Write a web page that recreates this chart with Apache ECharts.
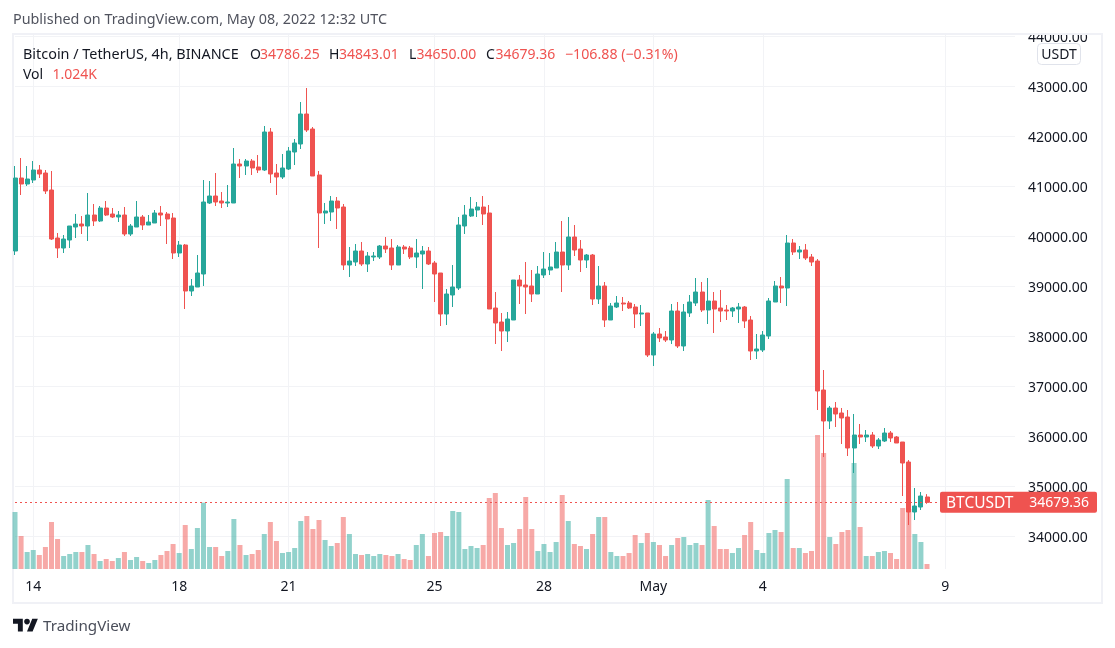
<!DOCTYPE html>
<html><head><meta charset="utf-8"><style>html,body{margin:0;padding:0;background:#fff}#c{width:1115px;height:648px}</style>
<script src="https://cdn.jsdelivr.net/npm/echarts@6/dist/echarts.min.js"></script></head><body><div id="c"></div>
<script>
const startTime = Date.UTC(2022,3,13,12);
const stepMs = 4*3600*1000;
const opens = [39706,41166,41046,41126,41326,41266,40926,39966,39766,39926,
40186,40246,40206,40426,40306,40566,40446,40386,40426,40046,
40186,40386,40226,40266,40466,40446,40366,39666,39826,38906,
38986,39246,40666,40806,40706,40666,40666,41446,41406,41506,
41386,41326,42086,41266,41186,41346,41686,41846,42446,42146,
41226,40466,40486,40706,40586,39426,39486,39706,39446,39586,
39586,39806,39766,39426,39786,39766,39586,39646,39706,39466,
39266,38446,38826,38966,40206,40406,40526,40586,40466,38566,
38286,38106,38326,39126,39026,39006,38846,39226,39326,39366,
39686,39426,39986,39746,39526,39626,38746,39006,38326,38586,
38666,38666,38586,38446,38466,37626,38046,37986,37926,38506,
37806,38466,38666,38886,38526,38706,38566,38526,38506,38546,
38586,38326,37706,37726,38006,38686,39006,38966,39866,39686,
39726,39586,39506,36926,36306,36566,36466,36386,35766,36026,
35986,36026,35806,35906,36066,35986,35886,35486,34486,34586,34786.25];
const closes = [41166,41046,41146,41326,41246,40906,39946,39766,39946,40206,
40246,40206,40426,40306,40566,40426,40386,40426,40046,40206,
40386,40226,40286,40466,40426,40346,39666,39826,38906,39006,
39266,40686,40806,40686,40666,40686,41446,41406,41506,41366,
41326,42086,41246,41186,41366,41706,41866,42446,42126,41206,
40466,40506,40706,40566,39426,39506,39706,39446,39606,39606,
39806,39746,39426,39786,39746,39586,39666,39706,39446,39246,
38446,38846,38986,40226,40426,40546,40586,40446,38546,38266,
38106,38346,39126,39006,38986,38846,39246,39346,39386,39686,
39426,39986,39726,39526,39626,38746,39006,38326,38606,38666,
38646,38566,38446,38466,37626,38046,37966,37926,38506,37806,
38486,38686,38886,38526,38706,38546,38506,38506,38566,38586,
38306,37706,37746,38026,38706,39006,38966,39866,39686,39726,
39566,39486,36906,36306,36566,36446,36366,35766,36026,35986,
36026,35806,35926,36066,35966,35866,35466,34486,34606,34806,34679.36];
const highs = [41406,41566,41406,41506,41426,41326,41306,40066,40026,40206,
40446,40406,40866,40646,40606,40706,40566,40506,40586,40246,
40706,40426,40426,40526,40606,40486,40466,39906,39846,39146,
39626,41126,41106,41266,40886,41026,41766,41546,41546,41546,
41626,42206,42166,41446,41646,41786,41946,42686,42966,42186,
41306,40666,40806,40786,40646,39786,39846,39886,39686,39686,
39826,39986,39946,39826,39826,39806,39946,39806,39786,39506,
39266,38946,39426,40386,40626,40786,40686,40806,40626,38886,
38466,38486,39126,39226,39486,39326,39406,39686,39666,39886,
40306,40386,40226,39926,39646,39646,39406,39086,38666,38806,
38786,38706,38646,38626,38466,38086,38166,38106,38646,38686,
38646,38826,39166,39086,39166,38886,38926,38626,38586,38666,
38606,38406,38046,38106,38766,39106,39186,40026,39946,39806,
39846,39646,39546,37326,36606,36686,36566,36526,36446,36246,
36126,36086,35966,36166,36106,36006,35886,35526,34966,34886,34843.01];
const lows = [39626,40826,41006,41066,41166,40846,39926,39566,39666,39766,
39966,40046,39906,40206,40286,40406,40366,40286,40006,40006,
40186,40126,40226,40266,40206,39846,39546,39586,38546,38806,
38986,39006,40646,40606,40566,40586,40666,41166,41226,41226,
41266,41306,41066,40826,41146,41326,41426,41746,42086,41206,
39766,40246,40306,40146,39326,39186,39406,39406,39286,39506,
39546,39666,39326,39426,39646,39546,39366,38946,39426,38686,
38206,38226,38586,38926,40046,40386,40386,40226,38546,37846,
37706,37886,38326,38646,38446,38686,38846,39166,39226,39366,
38886,39326,39606,39286,39366,38626,38646,38186,38326,38566,
38506,38546,38166,38206,37586,37406,37886,37886,37846,37766,
37706,38386,38606,38486,38246,38066,38286,38326,38386,38266,
38166,37526,37546,37686,37946,38686,38666,38606,39626,39546,
39526,39406,36526,35586,36146,36186,35846,35606,35266,35846,
35886,35766,35746,35886,35886,35866,34806,34226,34326,34526,34650];
const volumesK = [11.68,6.76,3.48,3.89,2.87,4.51,9.63,6.15,2.66,3.07,
3.48,3.48,4.92,3.07,1.64,2.05,1.64,2.25,3.48,1.84,
2.46,1.64,1.23,1.84,2.87,3.69,5.12,3.28,9.01,4.10,
8.40,13.59,4.51,4.51,2.66,3.69,10.24,4.92,2.87,3.07,
3.89,7.17,9.63,5.74,3.28,3.48,4.30,9.84,10.86,8.20,
10.04,5.94,4.71,5.33,10.65,7.17,3.07,2.87,3.07,2.66,
3.07,2.87,2.66,3.07,2.05,1.84,4.92,7.17,2.66,7.38,
7.58,6.76,11.88,11.68,4.10,4.71,4.30,4.92,14.55,15.57,
8.40,4.92,5.33,8.20,14.75,8.20,3.69,5.12,3.48,5.53,
15.16,9.84,5.12,4.71,4.10,7.17,10.65,10.65,3.48,2.66,
2.66,3.28,6.97,5.33,7.38,5.53,4.92,2.66,4.92,6.35,
6.56,4.92,5.33,4.92,14.14,8.81,4.10,4.10,3.28,4.30,
6.97,9.63,3.89,3.28,7.38,7.99,7.58,18.44,4.30,4.30,
3.28,3.69,27.46,23.77,6.56,5.12,7.58,7.99,21.72,8.61,
2.66,2.66,3.48,3.69,3.28,2.05,12.50,12.29,7.17,5.53,1.024];
const priceTicks = [34000,35000,36000,37000,38000,39000,40000,41000,42000,43000,44000];
const timeTicks = [Date.UTC(2022,3,14),Date.UTC(2022,3,18),Date.UTC(2022,3,21),Date.UTC(2022,3,25),Date.UTC(2022,3,28),Date.UTC(2022,4,1),Date.UTC(2022,4,4),Date.UTC(2022,4,9)];
const timeLabels = ['14','18','21','25','28','May','4','9'];
const changeText = '\u2212106.88 (\u22120.31%)';

const FONT = '"Noto Sans",sans-serif';
const UP='#26a69a', DOWN='#ef5350', INK='#131722', GRID='#f2f3f6', FRAME='#f0f1f6';
const barSlot = t => (t-startTime)/stepMs;
const tickSlots = timeTicks.map(barSlot);
const candleData = opens.map((o,i)=>[i,o,closes[i],lows[i],highs[i]]);
const volData = volumesK.map((v,i)=>({value:[i,v],itemStyle:{color:closes[i]>=opens[i]?'rgba(38,166,154,0.5)':'rgba(239,83,80,0.5)'}}));
const last = opens.length-1;

const PX_PER_CANDLE = 6.08, GRID_L=15, GRID_W=1000;
const chart = echarts.init(document.getElementById('c'),null,{renderer:'canvas'});
function txt(x,y,text,fill,size,align){return {type:'text',x,y:y+1,z:20,silent:true,style:{text,fill,font:(size||14)+'px '+FONT,textVerticalAlign:'middle',textAlign:align||'left'}};}
const RED=DOWN;
chart.setOption({
 animation:false,
 grid:{left:GRID_L,top:35,width:GRID_W,height:534,containLabel:false},
 xAxis:{type:'value',min:0,max:GRID_W/PX_PER_CANDLE,
  axisLine:{show:false},
  axisTick:{show:false,customValues:tickSlots},
  splitLine:{show:true,lineStyle:{color:GRID,width:1}},
  axisLabel:{customValues:tickSlots,color:INK,fontSize:14,fontFamily:FONT,margin:11,
    formatter:(v)=>timeLabels[tickSlots.indexOf(+v)]||''}},
 yAxis:[{type:'value',position:'right',min:33346,max:44026,
   axisLine:{show:false},axisTick:{show:false,customValues:priceTicks},
   splitLine:{show:true,lineStyle:{color:GRID,width:1}},
   axisLabel:{customValues:priceTicks,color:INK,fontSize:14,fontFamily:FONT,margin:13,verticalAlign:'top',lineHeight:3,formatter:v=>(+v).toFixed(2)}},
  {type:'value',min:0,max:109.4,show:false,splitLine:{show:false}}],
 series:[
  {type:'bar',yAxisIndex:1,data:volData,barWidth:5,clip:false,z:2},
  {type:'candlestick',yAxisIndex:0,data:candleData,encode:{x:0,y:[1,2,3,4]},barWidth:4.5,clip:false,z:3,
   itemStyle:{color:UP,color0:DOWN,borderColor:UP,borderColor0:DOWN,borderWidth:1},
   markLine:{silent:true,symbol:'none',animation:false,z:4,label:{show:false},
     data:[{yAxis:closes[last],lineStyle:{color:DOWN,type:[2,3],width:1,opacity:1},itemStyle:{color:DOWN}}]}}
 ]
});
const lastY = chart.convertToPixel({yAxisIndex:0},closes[last]);
chart.setOption({graphic:[
 {type:'rect',z:1,silent:true,shape:{x:13,y:34,width:1089,height:569},style:{fill:'none',stroke:FRAME,lineWidth:2}},
 {type:'rect',z:5,silent:true,shape:{x:1016,y:0,width:84,height:35},style:{fill:'#fff'}},
 {type:'line',z:6,silent:true,shape:{x1:12,y1:34,x2:1103,y2:34},style:{stroke:FRAME,lineWidth:2}},
 {type:'rect',z:20,silent:true,shape:{x:1037.5,y:43.5,width:43,height:21,r:4},style:{fill:'#fff',stroke:'#e0e3eb',lineWidth:1}},
 txt(1059,54,'USDT',INK,14,'center'),
 txt(13,19,'Published on TradingView.com, May 08, 2022 12:32 UTC','#50535e',14.35),
 txt(23,54,'Bitcoin / TetherUS, 4h, BINANCE',INK,14.4),
 txt(250,54,'O',INK,14),txt(260,54,opens[last].toFixed(2),RED,14),
 txt(329,54,'H',INK,14),txt(339,54,highs[last].toFixed(2),RED,14),
 txt(409,54,'L',INK,14),txt(416.5,54,lows[last].toFixed(2),RED,14),
 txt(486,54,'C',INK,14),txt(495.5,54,closes[last].toFixed(2),RED,14),
 txt(565,54,changeText,RED,14.2),
 txt(23,74,'Vol',INK,14),txt(52.5,74,volumesK[last].toFixed(3)+'K',RED,14),
 {type:'rect',z:20,silent:true,shape:{x:940,y:lastY-10.5,width:157,height:21,r:2},style:{fill:DOWN}},
 txt(946,lastY,'BTCUSDT','#fff',15.5),
 txt(1089,lastY,closes[last].toFixed(2),'#fff',14,'right'),
 {type:'polygon',z:20,silent:true,x:13,y:616,scaleX:.7,scaleY:.7,shape:{points:[[0,4],[14,4],[14,22],[7,22],[7,11],[0,11]]},style:{fill:INK}},
 {type:'polygon',z:20,silent:true,x:13,y:616,scaleX:.7,scaleY:.7,shape:{points:[[27.5,4],[35.5,4],[28,22],[20,22]]},style:{fill:INK}},
 {type:'circle',z:20,silent:true,x:13,y:616,scaleX:.7,scaleY:.7,shape:{cx:20,cy:8,r:4},style:{fill:INK}},
 txt(43,626,'TradingView','#4a4e5a',15.2)
]});
</script></body></html>
